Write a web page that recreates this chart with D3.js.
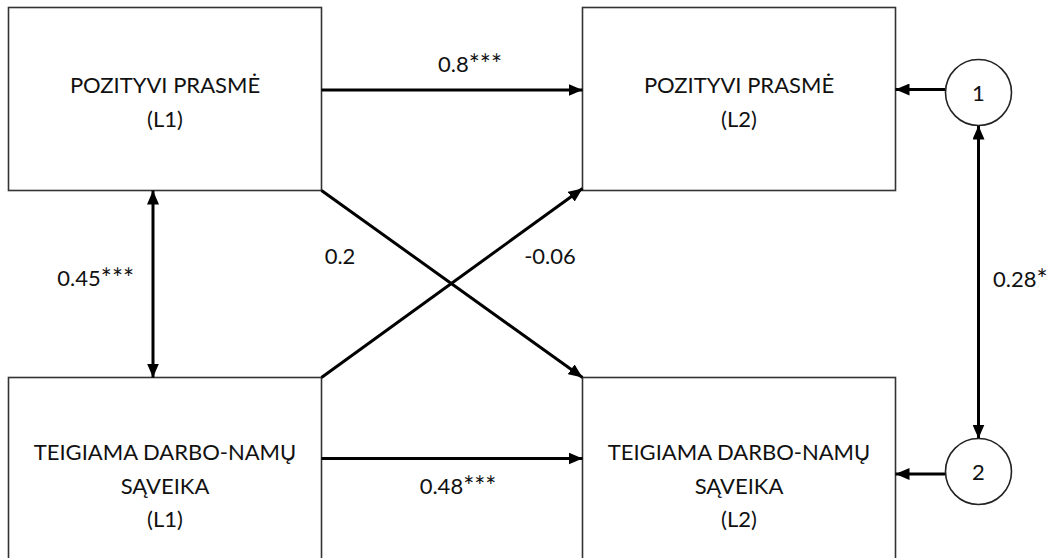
<!DOCTYPE html>
<html>
<head>
<meta charset="utf-8">
<script src="https://cdn.jsdelivr.net/npm/d3@7"></script>
<style>
  html, body { margin: 0; padding: 0; background: #fff; }
  svg { display: block; }
  text { font-family: Lato, "Open Sans", sans-serif; fill: #111; }
</style>
</head>
<body>
<svg id="chart" width="1050" height="558"></svg>
<script>
// Constructs (rows), each split into display lines
const constructLines = [["POZITYVI PRASMĖ"], ["TEIGIAMA DARBO-NAMŲ", "SĄVEIKA"]];
// Measurement waves (columns)
const waves = ["(L1)", "(L2)"];
// Cross-lagged paths: construct at L1 -> construct at L2
const pathFrom = [0, 0, 1, 1];
const pathTo = [0, 1, 0, 1];
const pathCoef = ["0.8***", "0.2", "-0.06", "0.48***"];
// Covariance between the two constructs at L1 and between L2 residuals
const covL1 = "0.45***";
const covResidual = "0.28*";
const residualNames = ["1", "2"];

const svg = d3.select("#chart");
const fontSize = 22;

// Layout scales
const boxW = 313;
const x = d3.scaleOrdinal().domain(waves).range([8.5, 582.5]);
const rowTop = d3.scaleOrdinal().domain([0, 1]).range([7.5, 377.5]);
const rowBottom = d3.scaleOrdinal().domain([0, 1]).range([190.5, 640]);
const rowBaseline = d3.scaleOrdinal().domain([0, 1]).range([93, 460]);
const lineStep = 33.5;
const residX = 978.5, residR = 33;
const residY = d3.scaleOrdinal().domain([0, 1]).range([92.5, 471.5]);
const residArrowY = d3.scaleOrdinal().domain([0, 1]).range([89.5, 474]);

// Writes a coefficient, drawing its significance stars a little larger
function coefText(sel, value) {
  const m = /^([^*]*)(\**)$/.exec(value);
  sel.append("tspan").text(m[1]);
  if (m[2]) sel.append("tspan").attr("font-size", fontSize + 4).attr("dy", 2).text(m[2]);
}

// Arrowhead marker
const defs = svg.append("defs");
defs.append("marker")
  .attr("id", "head")
  .attr("markerUnits", "userSpaceOnUse")
  .attr("viewBox", "0 0 14 12")
  .attr("refX", 14).attr("refY", 6)
  .attr("markerWidth", 14).attr("markerHeight", 12)
  .attr("orient", "auto-start-reverse")
  .append("path").attr("d", "M0,0 L14,6 L0,12 Z").attr("fill", "#000");

// Boxes for each construct x wave
const cells = [];
constructLines.forEach((lines, r) => waves.forEach(w => cells.push({ r, w, lines })));

const boxes = svg.append("g").selectAll("g").data(cells).join("g");
boxes.append("rect")
  .attr("x", d => x(d.w))
  .attr("y", d => rowTop(d.r))
  .attr("width", boxW)
  .attr("height", d => rowBottom(d.r) - rowTop(d.r))
  .attr("fill", "#fff")
  .attr("stroke", "#333")
  .attr("stroke-width", 1.6);
boxes.append("text")
  .attr("text-anchor", "middle")
  .attr("font-size", fontSize)
  .selectAll("tspan")
  .data(d => d.lines.concat([d.w]).map((t, i) => ({ t, i, d })))
  .join("tspan")
  .attr("x", e => x(e.d.w) + boxW / 2)
  .attr("y", e => rowBaseline(e.d.r) + e.i * lineStep)
  .text(e => e.t);

// Anchor points of paths on the box edges
const lineG = svg.append("g")
  .attr("stroke", "#000").attr("stroke-width", 3).attr("fill", "none");

function pathEnds(from, to) {
  const x0 = x(waves[0]) + boxW, x1 = x(waves[1]);
  if (from === to) {
    const y = from === 0 ? 90 : 458.5;
    return [x0, y, x1, y];
  }
  const y0 = from === 0 ? rowBottom(0) : rowTop(1);
  const y1 = to === 0 ? rowBottom(0) - 2 : rowTop(1);
  return [x0, y0, x1, y1];
}

const paths = pathCoef.map((c, i) => ({ from: pathFrom[i], to: pathTo[i], c, e: pathEnds(pathFrom[i], pathTo[i]) }));

lineG.selectAll("line.path").data(paths).join("line")
  .attr("class", "path")
  .attr("x1", d => d.e[0]).attr("y1", d => d.e[1])
  .attr("x2", d => d.e[2]).attr("y2", d => d.e[3])
  .attr("marker-end", "url(#head)");

// Coefficient labels
const labelPos = {
  "0-0": { x: 470, y: 72, anchor: "middle" },
  "0-1": { x: 340, y: 264, anchor: "middle" },
  "1-0": { x: 550, y: 264, anchor: "middle" },
  "1-1": { x: 458, y: 494, anchor: "middle" }
};
svg.append("g").selectAll("text").data(paths).join("text")
  .attr("font-size", fontSize)
  .attr("x", d => labelPos[d.from + "-" + d.to].x)
  .attr("y", d => labelPos[d.from + "-" + d.to].y)
  .attr("text-anchor", d => labelPos[d.from + "-" + d.to].anchor)
  .each(function (d) { coefText(d3.select(this), d.c); });

// L1 covariance (double-headed)
const covX = 153;
lineG.append("line")
  .attr("x1", covX).attr("y1", rowBottom(0))
  .attr("x2", covX).attr("y2", rowTop(1))
  .attr("marker-start", "url(#head)")
  .attr("marker-end", "url(#head)");
svg.append("text")
  .attr("font-size", fontSize)
  .attr("x", 134).attr("y", 286)
  .attr("text-anchor", "end")
  .call(coefText, covL1);

// Residual circles and their arrows into the L2 boxes
const resid = svg.append("g").selectAll("g").data(residualNames).join("g");
resid.append("circle")
  .attr("cx", residX).attr("cy", (d, i) => residY(i)).attr("r", residR)
  .attr("fill", "#fff").attr("stroke", "#222").attr("stroke-width", 1.6);
resid.append("text")
  .attr("font-size", fontSize)
  .attr("text-anchor", "middle")
  .attr("x", residX).attr("y", (d, i) => residY(i) + 8)
  .text(d => d);
lineG.selectAll("line.resid").data(residualNames).join("line")
  .attr("class", "resid")
  .attr("x1", residX - residR).attr("y1", (d, i) => residArrowY(i))
  .attr("x2", x(waves[1]) + boxW).attr("y2", (d, i) => residArrowY(i))
  .attr("marker-end", "url(#head)");

// Residual covariance (double-headed)
lineG.append("line")
  .attr("x1", residX).attr("y1", residY(0) + residR)
  .attr("x2", residX).attr("y2", residY(1) - residR)
  .attr("marker-start", "url(#head)")
  .attr("marker-end", "url(#head)");
svg.append("text")
  .attr("font-size", fontSize)
  .attr("x", 993).attr("y", 287)
  .call(coefText, covResidual);
</script>
</body>
</html>
